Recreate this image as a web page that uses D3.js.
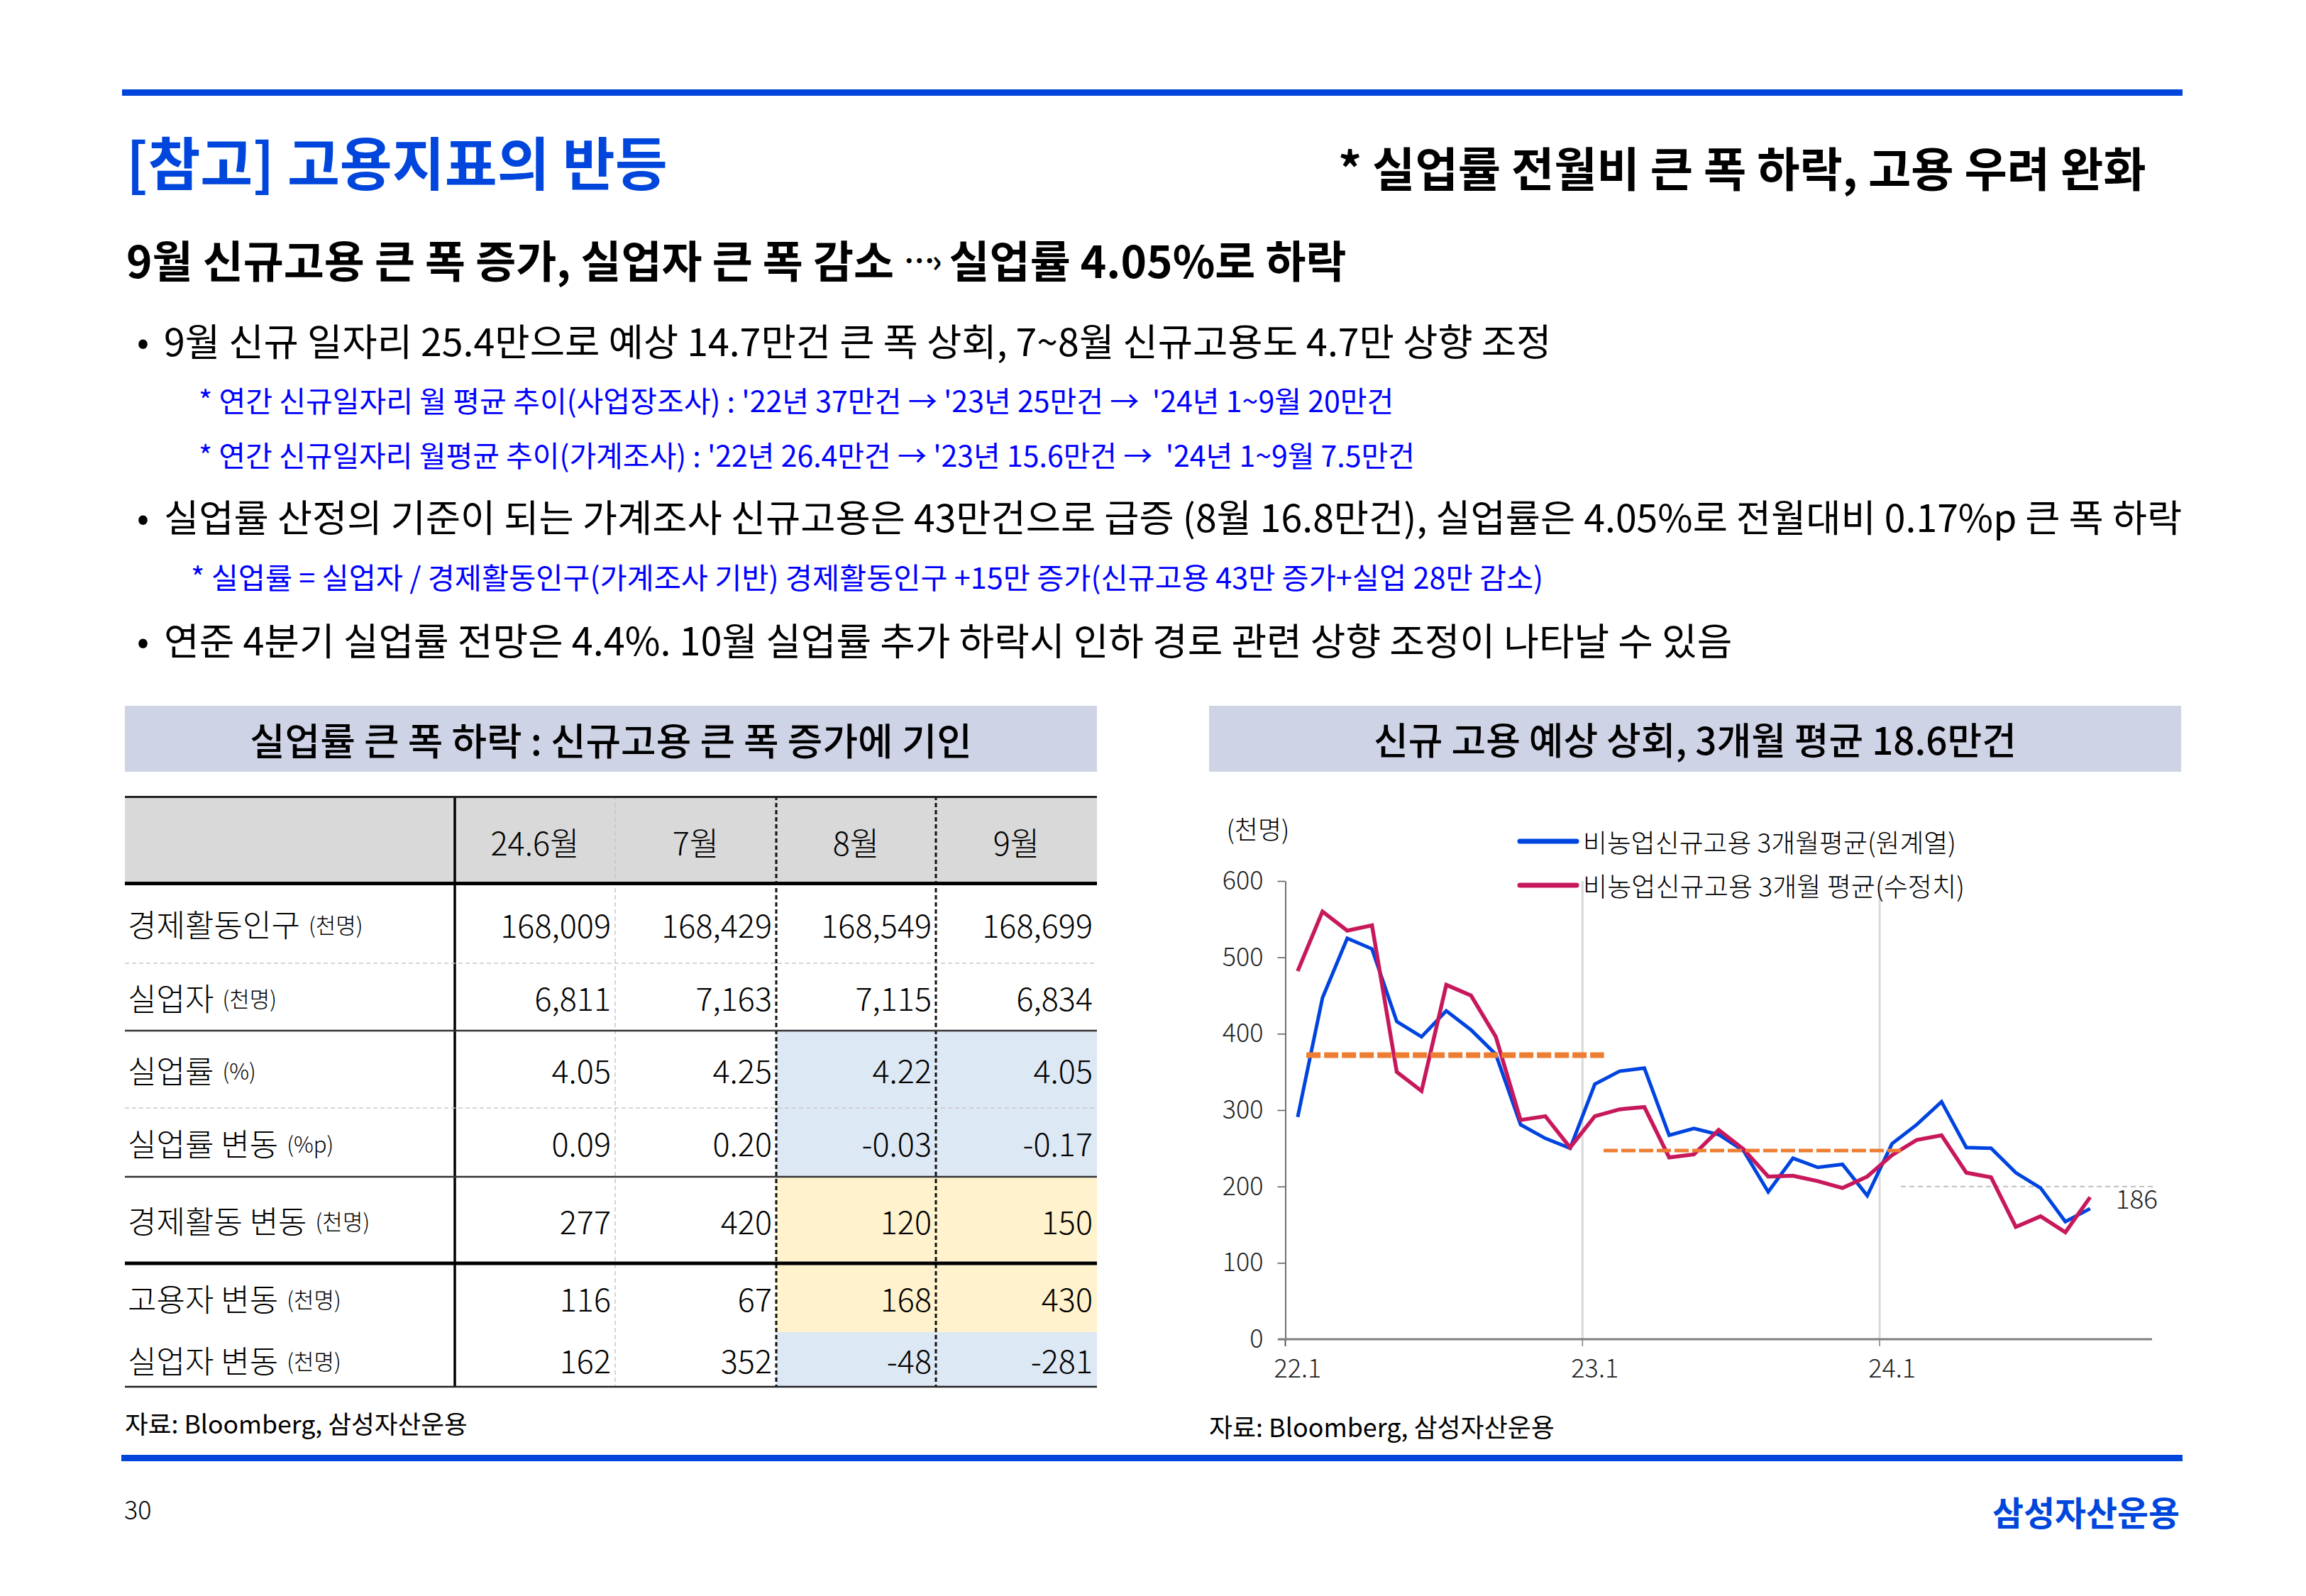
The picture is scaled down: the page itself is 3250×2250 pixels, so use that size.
<!DOCTYPE html>
<html><head><meta charset="utf-8">
<script src="https://cdn.jsdelivr.net/npm/d3@7"></script>
<style>
html,body{margin:0;padding:0;background:#fff;}
svg{display:block;font-family:"Noto Sans CJK KR","Noto Sans",sans-serif;}
text{white-space:pre;}
</style></head><body>
<svg id="c" width="3250" height="2250"></svg>
<script>
// ---------------- DATA ----------------
const months = ["22.1","22.2","22.3","22.4","22.5","22.6","22.7","22.8","22.9","22.10","22.11","22.12",
  "23.1","23.2","23.3","23.4","23.5","23.6","23.7","23.8","23.9","23.10","23.11","23.12",
  "24.1","24.2","24.3","24.4","24.5","24.6","24.7","24.8","24.9"];
const nfpRaw = [291,447,525,511,416,396,430,405,373,281,263,250,334,351,355,267,276,268,247,193,237,225,229,188,256,281,311,251,250,218,198,154,171];
const nfpRevised = [482,560,535,542,350,325,464,450,396,287,292,251,292,301,304,238,242,274,249,213,214,207,198,213,241,261,267,218,212,147,161,140,186];
const seriesNames = ["비농업신규고용 3개월평균(원계열)","비농업신규고용 3개월 평균(수정치)"];
const yearAvgValues = [372, 247];          // 2022, 2023 monthly average
const yearAvgStartMonth = [0, 12];
const refValue = 200;
const yTicks = [0,100,200,300,400,500,600];
const xTickLabels = ["22.1","23.1","24.1"];
const xTickMonths = [0,12,24];

const tableCols = ["24.6월","7월","8월","9월"];
const tableRowLabels = ["경제활동인구","실업자","실업률","실업률 변동","경제활동 변동","고용자 변동","실업자 변동"];
const tableRowUnits = ["(천명)","(천명)","(%)","(%p)","(천명)","(천명)","(천명)"];
const tableValues = [
  ["168,009","168,429","168,549","168,699"],
  ["6,811","7,163","7,115","6,834"],
  ["4.05","4.25","4.22","4.05"],
  ["0.09","0.20","-0.03","-0.17"],
  ["277","420","120","150"],
  ["116","67","168","430"],
  ["162","352","-48","-281"]
];
const blueRows = [2,3,6], yellowRows = [4,5], hlCols = [2,3];

const titleText = "[참고] 고용지표의 반등";
const rightTitle = "* 실업률 전월비 큰 폭 하락, 고용 우려 완화";
const subTitleA = "9월 신규고용 큰 폭 증가, 실업자 큰 폭 감소 ";
const subTitleArrow = "⋯›";
const subTitleB = " 실업률 4.05%로 하락";
const bullets = [
  "9월 신규 일자리 25.4만으로 예상 14.7만건 큰 폭 상회, 7~8월 신규고용도 4.7만 상향 조정",
  "실업률 산정의 기준이 되는 가계조사 신규고용은 43만건으로 급증 (8월 16.8만건), 실업률은 4.05%로 전월대비 0.17%p 큰 폭 하락",
  "연준 4분기 실업률 전망은 4.4%. 10월 실업률 추가 하락시 인하 경로 관련 상향 조정이 나타날 수 있음"
];
const notes = [
  "* 연간 신규일자리 월 평균 추이(사업장조사) : '22년 37만건 → '23년 25만건 →  '24년 1~9월 20만건",
  "* 연간 신규일자리 월평균 추이(가계조사) : '22년 26.4만건 → '23년 15.6만건 →  '24년 1~9월 7.5만건",
  "* 실업률 = 실업자 / 경제활동인구(가계조사 기반) 경제활동인구 +15만 증가(신규고용 43만 증가+실업 28만 감소)"
];
const leftHeader = "실업률 큰 폭 하락 : 신규고용 큰 폭 증가에 기인";
const rightHeader = "신규 고용 예상 상회, 3개월 평균 18.6만건";
const sourceText = "자료: Bloomberg, 삼성자산운용";
const unitLabel = "(천명)";
const pageNo = "30";
const brand = "삼성자산운용";

// ---------------- HELPERS ----------------
const svg = d3.select("#c");
svg.append("rect").attr("width",3250).attr("height",2250).attr("fill","#fff");
const BLUE = "#0046DC";

function fitTo(t, fs, width) {
  const w = t.node().getComputedTextLength();
  let f = fs*width/w;
  f = Math.max(fs*0.8, Math.min(fs*1.2, f));
  t.attr("font-size", f);
}
function txt(x, y, s, fs, opts={}) {
  const t = svg.append("text").attr("x",x).attr("y",y).text(s)
    .attr("font-size",fs).attr("dominant-baseline","central")
    .attr("fill",opts.fill||"#000").attr("font-weight",opts.w||400)
    .attr("text-anchor",opts.anchor||"start");
  if (opts.width) fitTo(t, fs, opts.width);
  return t;
}

// ---------------- HEADER ----------------
svg.append("rect").attr("x",172).attr("y",126).attr("width",2904).attr("height",9).attr("fill",BLUE);
txt(178, 226, titleText, 74, {fill:BLUE, w:700, width:763});
txt(1886, 234, rightTitle, 62, {w:700, width:1139});
{
  const t = svg.append("text").attr("x",178).attr("y",365).attr("font-size",58)
    .attr("dominant-baseline","central").attr("font-weight",700).attr("fill","#000");
  t.append("tspan").text(subTitleA);
  t.append("tspan").attr("font-size","0.7em").attr("font-weight",700).attr("letter-spacing",-4).text(subTitleArrow);
  t.append("tspan").text(subTitleB);
  fitTo(t, 58, 1719);
}

const bulletY = [478, 726, 900];
bullets.forEach((b,i)=>{
  txt(193, bulletY[i], "•", 50);
  txt(231, bulletY[i], b, 50, {width:[1956,2845,2211][i]});
});
const noteX = [280,280,269], noteY = [563,640,812], noteW = [1685,1714,1907];
notes.forEach((n,i)=> txt(noteX[i], noteY[i], n, 40, {fill:"#0000FF", width:noteW[i]}));

// ---------------- PANEL HEADERS ----------------
svg.append("rect").attr("x",176).attr("y",995).attr("width",1370).attr("height",93).attr("fill","#CFD3E6");
svg.append("rect").attr("x",1704).attr("y",995).attr("width",1370).attr("height",93).attr("fill","#CFD3E6");
txt(861, 1041, leftHeader, 52, {anchor:"middle", w:500, width:1018});
txt(2389, 1041, rightHeader, 52, {anchor:"middle", w:500, width:906});

// ---------------- TABLE ----------------
const tX = [176, 641, 867, 1094, 1319, 1546];
const headTop = 1122, headBot = 1246;
const rowY = [1246,1358,1453,1562,1659,1781,1878,1955];
const tg = svg.append("g");
tg.append("rect").attr("x",tX[0]).attr("y",headTop).attr("width",tX[5]-tX[0]).attr("height",headBot-headTop).attr("fill","#D9D9D9");
blueRows.forEach(r=>{
  tg.append("rect").attr("x",tX[hlCols[0]+1]).attr("y",rowY[r]).attr("width",tX[5]-tX[hlCols[0]+1]).attr("height",rowY[r+1]-rowY[r]).attr("fill","#DDE8F5");
});
yellowRows.forEach(r=>{
  tg.append("rect").attr("x",tX[hlCols[0]+1]).attr("y",rowY[r]).attr("width",tX[5]-tX[hlCols[0]+1]).attr("height",rowY[r+1]-rowY[r]).attr("fill","#FFF2CC");
});
function hl(y, w, color, dash) {
  const l = tg.append("line").attr("x1",tX[0]).attr("x2",tX[5]).attr("y1",y).attr("y2",y)
    .attr("stroke",color).attr("stroke-width",w);
  if (dash) l.attr("stroke-dasharray",dash);
}
function vl(x, w, color, dash) {
  const l = tg.append("line").attr("x1",x).attr("x2",x).attr("y1",headTop).attr("y2",rowY[7])
    .attr("stroke",color).attr("stroke-width",w);
  if (dash) l.attr("stroke-dasharray",dash);
}
vl(tX[2], 1.5, "#C8C8C8", "6 4");
vl(tX[3], 3, "#111", "6 4");
vl(tX[4], 3, "#111", "6 4");
vl(tX[1], 3.5, "#000");
hl(headTop+1.5, 3, "#222");
hl(1245.5, 5, "#000");
hl(rowY[1], 1.5, "#C8C8C8", "6 4");
hl(rowY[2], 2.5, "#333");
hl(rowY[3], 1.5, "#C8C8C8", "6 4");
hl(rowY[4], 2.5, "#333");
hl(rowY[5], 5, "#000");
hl(rowY[7], 2.5, "#222");

tableCols.forEach((c,i)=> txt((tX[i+1]+tX[i+2])/2, 1186, c, 45, {anchor:"middle", w:300}));
tableRowLabels.forEach((lab,r)=>{
  const y = (rowY[r]+rowY[r+1])/2;
  const t = svg.append("text").attr("x",180).attr("y",y).attr("dominant-baseline","central")
    .attr("font-weight",300).attr("fill","#000");
  t.append("tspan").attr("font-size",44).text(lab);
  t.append("tspan").attr("font-size",31).attr("dx",12).text(tableRowUnits[r]);
  tableValues[r].forEach((v,c)=>{
    txt(tX[c+2]-6, y, v, 45, {anchor:"end", w:300});
  });
});
txt(176, 2005, sourceText, 34, {width:483, w:400});

// ---------------- CHART ----------------
const x = d3.scaleLinear().domain([0,35]).range([1811.5, 3033]);
const y = d3.scaleLinear().domain([0,600]).range([1888, 1242]);
const cg = svg.append("g");

// vertical gridlines at year starts
xTickMonths.slice(1).forEach(m=>{
  cg.append("line").attr("x1",x(m)).attr("x2",x(m)).attr("y1",y(600)).attr("y2",y(0))
    .attr("stroke","#D9D9D9").attr("stroke-width",3);
});
// x tick marks below axis
xTickMonths.forEach(m=>{
  cg.append("line").attr("x1",x(m)).attr("x2",x(m)).attr("y1",y(0)).attr("y2",y(0)+10)
    .attr("stroke","#808080").attr("stroke-width",1.5);
});
// y axis
const yAxis = d3.axisLeft(y).tickValues(yTicks).tickSize(11).tickPadding(20).tickSizeOuter(0);
const ya = cg.append("g").attr("transform",`translate(${x(0)},0)`).call(yAxis);
ya.select(".domain").attr("stroke","#404040").attr("stroke-width",1.5);
ya.selectAll(".tick line").attr("stroke","#595959").attr("stroke-width",1.5);
ya.selectAll(".tick text").attr("font-size",36).attr("fill","#222")
  .attr("font-family",'"Noto Sans CJK KR","Noto Sans",sans-serif').attr("font-weight",300);
cg.append("line").attr("x1",x(0)).attr("x2",x(0)).attr("y1",y(0)).attr("y2",y(0)+10)
  .attr("stroke","#404040").attr("stroke-width",1.5);
// x axis line
cg.append("line").attr("x1",x(0)-10).attr("x2",x(35)).attr("y1",y(0)).attr("y2",y(0))
  .attr("stroke","#808080").attr("stroke-width",3);
xTickLabels.forEach((l,i)=>{
  cg.append("text").attr("x",x(xTickMonths[i]+0.5)).attr("y",1926).attr("text-anchor","middle")
    .attr("dominant-baseline","central").attr("font-size",36).attr("font-weight",300).attr("fill","#222").text(l);
});
// reference dashed line (200) in 2024
cg.append("line").attr("x1",x(24.86)).attr("x2",x(35.1)).attr("y1",y(refValue)).attr("y2",y(refValue))
  .attr("stroke","#BFBFBF").attr("stroke-width",2).attr("stroke-dasharray","7 5");

const line = d3.line().x((d,i)=>x(i+0.5)).y(d=>y(d)).curve(d3.curveLinear);
cg.append("path").datum(nfpRaw).attr("d",line).attr("fill","none")
  .attr("stroke","#0044E0").attr("stroke-width",5).attr("stroke-linejoin","miter");
cg.append("path").datum(nfpRevised).attr("d",line).attr("fill","none")
  .attr("stroke","#C8185C").attr("stroke-width",5.5).attr("stroke-linejoin","miter");

// yearly average dashed lines
yearAvgValues.forEach((v,i)=>{
  const m = yearAvgStartMonth[i];
  cg.append("line").attr("x1",x(m+0.85)).attr("x2",x(m+12.87)).attr("y1",y(v)).attr("y2",y(v))
    .attr("stroke","#ED7D31").attr("stroke-width", i===0?8:5).attr("stroke-dasharray","20 5");
});
// end label
const last = nfpRevised[nfpRevised.length-1];
cg.append("text").attr("x",x(months.length-0.5)+36).attr("y",y(last)).attr("dominant-baseline","central")
  .attr("font-size",37).attr("font-weight",300).attr("fill","#222").text(d3.format("d")(last));

// unit + legend
txt(1773, 1167, unitLabel, 36, {anchor:"middle", w:300});
const legColors = ["#0044E0","#C8185C"], legY = [1186,1248], legW = [526,538];
seriesNames.forEach((s,i)=>{
  cg.append("line").attr("x1",2142).attr("x2",2222).attr("y1",legY[i]).attr("y2",legY[i])
    .attr("stroke",legColors[i]).attr("stroke-width",7).attr("stroke-linecap","round");
  txt(2231, legY[i], s, 36, {width:legW[i], w:300});
});
txt(1704, 2010, sourceText, 34, {width:487, w:400});

// ---------------- FOOTER ----------------
svg.append("rect").attr("x",171).attr("y",2051).attr("width",2905).attr("height",9).attr("fill",BLUE);
txt(175, 2126, pageNo, 36, {w:300});
txt(3072, 2130, brand, 46, {anchor:"end", fill:BLUE, w:700, width:264});
</script>
</body></html>
